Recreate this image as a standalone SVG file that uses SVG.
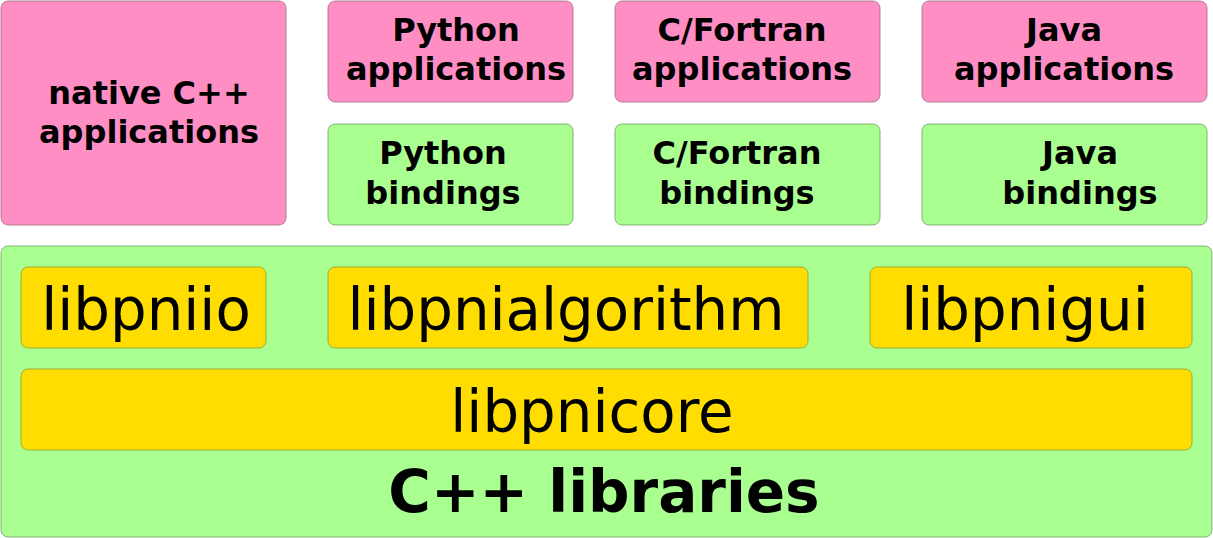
<svg xmlns="http://www.w3.org/2000/svg" width="1213" height="538" viewBox="0 0 1213 538">
<style>
.app{fill:#ff8ec4;stroke:#a07080;stroke-width:0.8}
.bind{fill:#aaff91;stroke:#70a060;stroke-width:0.8}
.lib{fill:#ffdd00;stroke:#90a030;stroke-width:0.8}
.lbl{font-family:"DejaVu Sans",sans-serif;font-weight:bold;font-size:32px;fill:#000;text-anchor:middle}
.libt{font-family:"DejaVu Sans",sans-serif;font-size:57.8px;fill:#000;text-anchor:middle}
.big{font-family:"DejaVu Sans",sans-serif;font-weight:bold;font-size:58px;fill:#000;text-anchor:middle}
</style>
<rect width="1213" height="538" fill="#fff"/>
<g id="native-cpp"><rect class="app" x="1" y="1" width="285" height="224" rx="7"/><text class="lbl" x="149" y="104">native C++</text><text class="lbl" x="149" y="143">applications</text></g>
<g id="python-apps"><rect class="app" x="328" y="1" width="245" height="101" rx="7"/><text class="lbl" x="456" y="41">Python</text><text class="lbl" x="456" y="80">applications</text></g>
<g id="fortran-apps"><rect class="app" x="615" y="1" width="265" height="101" rx="7"/><text class="lbl" x="742" y="41">C/Fortran</text><text class="lbl" x="742" y="80">applications</text></g>
<g id="java-apps"><rect class="app" x="922" y="1" width="285" height="101" rx="7"/><text class="lbl" x="1064" y="41">Java</text><text class="lbl" x="1064" y="80">applications</text></g>
<g id="python-bindings"><rect class="bind" x="328" y="124" width="245" height="101" rx="7"/><text class="lbl" x="443" y="164">Python</text><text class="lbl" x="443" y="204">bindings</text></g>
<g id="fortran-bindings"><rect class="bind" x="615" y="124" width="265" height="101" rx="7"/><text class="lbl" x="737" y="164">C/Fortran</text><text class="lbl" x="737" y="204">bindings</text></g>
<g id="java-bindings"><rect class="bind" x="922" y="124" width="285" height="101" rx="7"/><text class="lbl" x="1080" y="164">Java</text><text class="lbl" x="1080" y="204">bindings</text></g>
<g id="cpp-libraries"><rect class="bind" x="1" y="246" width="1211" height="291" rx="7"/><text class="big" x="604" y="512">C++ libraries</text></g>
<g id="libpniio"><rect class="lib" x="21" y="267" width="245" height="81" rx="7"/><text class="libt" x="146" y="330">libpniio</text></g>
<g id="libpnialgorithm"><rect class="lib" x="328" y="267" width="480" height="81" rx="7"/><text class="libt" x="566" y="330">libpnialgorithm</text></g>
<g id="libpnigui"><rect class="lib" x="870" y="267" width="322" height="81" rx="7"/><text class="libt" x="1025" y="330">libpnigui</text></g>
<g id="libpnicore"><rect class="lib" x="21" y="369" width="1171" height="81" rx="7"/><text class="libt" x="592" y="432">libpnicore</text></g>
<g id="connectors"/>
</svg>
